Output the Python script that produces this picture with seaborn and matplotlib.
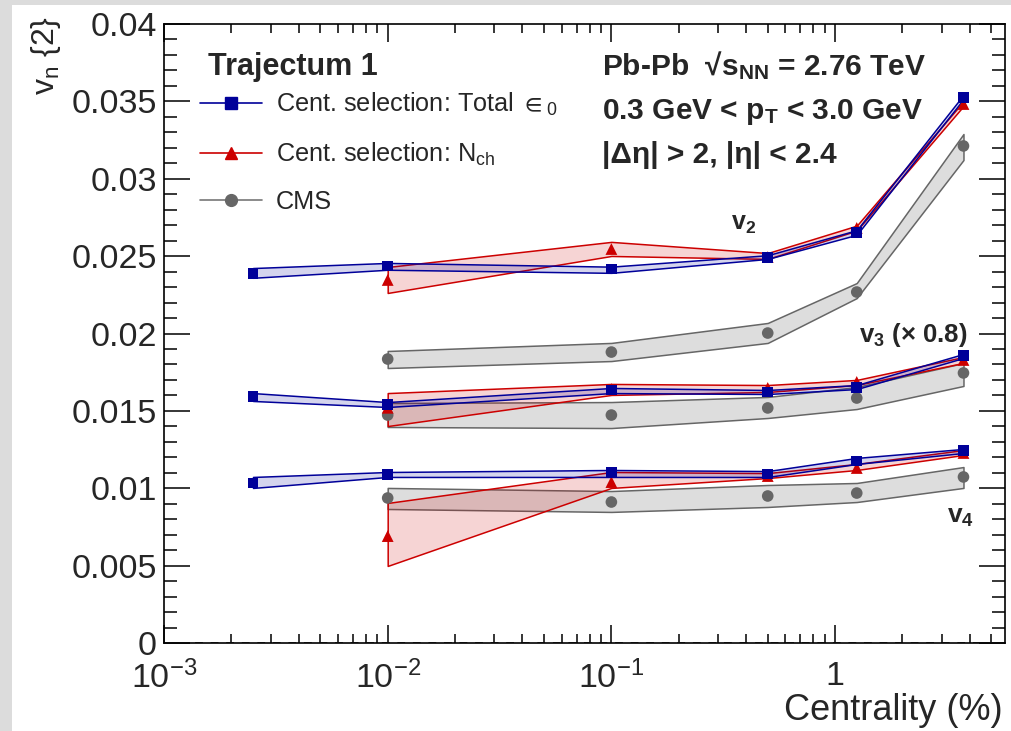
import numpy as np
import pandas as pd
import matplotlib
matplotlib.use("Agg")
import matplotlib.pyplot as plt
import seaborn as sns
from matplotlib.lines import Line2D
from matplotlib.patches import Rectangle
from matplotlib.colors import to_rgba
from matplotlib.ticker import FixedLocator, FixedFormatter, NullFormatter, MultipleLocator

# ---------------- data ----------------
cent_traj = [0.0025, 0.01, 0.1, 0.5, 1.25, 3.75]   # Total eps0 selection
cent_other = [0.01, 0.1, 0.5, 1.25, 3.75]          # Nch selection and CMS

# v2
v2_tot    = [0.02390, 0.02436, 0.02417, 0.02494, 0.02652, 0.03528]
v2_tot_lo = [0.02360, 0.02412, 0.02392, 0.02482, 0.02638, 0.03515]
v2_tot_hi = [0.02423, 0.02456, 0.02432, 0.02506, 0.02668, 0.03542]
v2_nch    = [0.02346, 0.02546, 0.02494, 0.02682, 0.03483]
v2_nch_lo = [0.02262, 0.02501, 0.02482, 0.02665, 0.03470]
v2_nch_hi = [0.02430, 0.02592, 0.02520, 0.02697, 0.03500]
v2_cms    = [0.01835, 0.01880, 0.02003, 0.02268, 0.03212]
v2_cms_lo = [0.01777, 0.01822, 0.01939, 0.02229, 0.03121]
v2_cms_hi = [0.01887, 0.01939, 0.02068, 0.02326, 0.03289]

# v3 (x 0.8, as drawn)
v3_tot    = [0.01590, 0.01544, 0.01635, 0.01622, 0.01654, 0.01855]
v3_tot_lo = [0.01564, 0.01525, 0.01615, 0.01609, 0.01641, 0.01842]
v3_tot_hi = [0.01615, 0.01557, 0.01648, 0.01635, 0.01667, 0.01868]
v3_nch    = [0.01520, 0.01641, 0.01648, 0.01687, 0.01829]
v3_nch_lo = [0.01402, 0.01603, 0.01622, 0.01667, 0.01810]
v3_nch_hi = [0.01615, 0.01674, 0.01667, 0.01700, 0.01848]
v3_cms    = [0.01473, 0.01473, 0.01519, 0.01583, 0.01745]
v3_cms_lo = [0.01396, 0.01389, 0.01454, 0.01512, 0.01661]
v3_cms_hi = [0.01551, 0.01557, 0.01590, 0.01654, 0.01809]

# v4
v4_tot    = [0.01034, 0.01086, 0.01099, 0.01092, 0.01176, 0.01241]
v4_tot_lo = [0.01002, 0.01073, 0.01073, 0.01073, 0.01157, 0.01228]
v4_tot_hi = [0.01073, 0.01105, 0.01118, 0.01111, 0.01196, 0.01254]
v4_nch    = [0.00691, 0.01040, 0.01079, 0.01131, 0.01228]
v4_nch_lo = [0.00498, 0.01002, 0.01066, 0.01118, 0.01215]
v4_nch_hi = [0.00905, 0.01105, 0.01098, 0.01157, 0.01247]
v4_cms    = [0.00937, 0.00911, 0.00950, 0.00969, 0.01073]
v4_cms_lo = [0.00866, 0.00847, 0.00879, 0.00911, 0.01002]
v4_cms_hi = [0.01002, 0.00982, 0.01021, 0.01034, 0.01137]

legend_labels = [r"Cent. selection: Total ${\in}_{0}$",
                 r"Cent. selection: N$_{\rm ch}$",
                 "CMS"]
xtick_vals = [1e-3, 1e-2, 1e-1, 1]
xtick_labels = [r"$10^{-3}$", r"$10^{-2}$", r"$10^{-1}$", "1"]
ytick_vals = [0, 0.005, 0.01, 0.015, 0.02, 0.025, 0.03, 0.035, 0.04]
ytick_labels = ["0", "0.005", "0.01", "0.015", "0.02", "0.025", "0.03", "0.035", "0.04"]

# ---------------- style ----------------
sns.set_theme(style="ticks")
plt.rcParams["font.family"] = ["Liberation Sans", "DejaVu Sans"]
plt.rcParams["mathtext.fontset"] = "custom"
plt.rcParams["mathtext.rm"] = "Liberation Sans"
plt.rcParams["mathtext.it"] = "Liberation Sans:italic"
plt.rcParams["mathtext.bf"] = "Liberation Sans:bold"
plt.rcParams["mathtext.fallback"] = "stixsans"

W, H = 1011, 731
fig = plt.figure(figsize=(W / 100, H / 100), dpi=100, facecolor="white")

def fx(x):
    return x / W

def fy(y):
    return 1 - y / H

# grey screenshot border (left and top)
fig.patches.append(Rectangle((0, 0), fx(12), 1, transform=fig.transFigure,
                             facecolor="#dcdcdc", edgecolor="none", zorder=0))
fig.patches.append(Rectangle((0, fy(5)), 1, 1 - fy(5), transform=fig.transFigure,
                             facecolor="#dcdcdc", edgecolor="none", zorder=0))

ax = fig.add_axes([fx(164), fy(643), fx(1005) - fx(164), fy(24) - fy(643)])
ax.set_facecolor("white")

BLUE = "#000099"
RED = "#cc0000"
GREY = "#666666"

series = [
    # (x, center, lo, hi, colour, fill alpha, marker, size)
    (cent_other, v2_cms, v2_cms_lo, v2_cms_hi, GREY, 0.22, "o", 70),
    (cent_other, v3_cms, v3_cms_lo, v3_cms_hi, GREY, 0.22, "o", 70),
    (cent_other, v4_cms, v4_cms_lo, v4_cms_hi, GREY, 0.22, "o", 70),
    (cent_other, v2_nch, v2_nch_lo, v2_nch_hi, RED, 0.17, "^", 72),
    (cent_other, v3_nch, v3_nch_lo, v3_nch_hi, RED, 0.17, "^", 72),
    (cent_other, v4_nch, v4_nch_lo, v4_nch_hi, RED, 0.17, "^", 72),
    (cent_traj, v2_tot, v2_tot_lo, v2_tot_hi, BLUE, 0.17, "s", 62),
    (cent_traj, v3_tot, v3_tot_lo, v3_tot_hi, BLUE, 0.17, "s", 62),
    (cent_traj, v4_tot, v4_tot_lo, v4_tot_hi, BLUE, 0.17, "s", 62),
]

z = 2
for x, c, lo, hi, col, a, m, s in series:
    ax.fill_between(x, lo, hi, facecolor=to_rgba(col, a), edgecolor=col,
                    linewidth=1.1, zorder=z)
    z += 1
for x, c, lo, hi, col, a, m, s in series:
    df = pd.DataFrame({"cent": x, "v": c})
    sns.scatterplot(data=df, x="cent", y="v", marker=m, s=s, color=col,
                    edgecolor="none", linewidth=0, ax=ax, zorder=z, legend=False)
    z += 1

ax.axhline(0, color="#444444", lw=1.4, ls=(0, (4, 4)), zorder=1)

ax.set_xscale("log")
ax.set_xlim(1e-3, 5.75)
ax.set_ylim(0, 0.04)
ax.set_xlabel("")
ax.set_ylabel("")

ax.xaxis.set_major_locator(FixedLocator(xtick_vals))
ax.xaxis.set_major_formatter(FixedFormatter(xtick_labels))
minor_x = [m * 10.0 ** e for e in range(-3, 1) for m in range(2, 10) if m * 10.0 ** e < 5.75]
ax.xaxis.set_minor_locator(FixedLocator(minor_x))
ax.xaxis.set_minor_formatter(NullFormatter())
ax.yaxis.set_major_locator(FixedLocator(ytick_vals))
ax.yaxis.set_major_formatter(FixedFormatter(ytick_labels))
ax.yaxis.set_minor_locator(MultipleLocator(0.001))

for sp in ax.spines.values():
    sp.set_linewidth(1.2)
    sp.set_color("black")
    sp.set_visible(True)

ax.tick_params(axis="both", which="both", direction="in", top=True, right=True,
               color="black", width=1.1)
ax.tick_params(axis="y", which="major", length=19, labelsize=24.5, pad=5)
ax.tick_params(axis="y", which="minor", length=9.5)
ax.tick_params(axis="x", which="major", length=13, labelsize=24.5, pad=13)
ax.tick_params(axis="x", which="minor", length=6.5)

# legend
handles = [
    Line2D([], [], color=BLUE, marker="s", markersize=8, lw=1.2),
    Line2D([], [], color=RED, marker="^", markersize=8.5, lw=1.2),
    Line2D([], [], color="#777777", marker="o", markerfacecolor=GREY,
           markeredgecolor=GREY, markersize=8.5, lw=1.2),
]
ax.legend(handles, legend_labels, loc="upper left", frameon=False,
          bbox_to_anchor=(fx(200), fy(91)), bbox_transform=fig.transFigure,
          fontsize=18.2, handlelength=2.45, handletextpad=0.55,
          labelspacing=0.88, borderpad=0, borderaxespad=0)

# texts
fig.text(fx(208), fy(75), "Trajectum 1", fontsize=22, fontweight="bold",
         ha="left", va="baseline")
fig.text(fx(602), fy(75), r"Pb-Pb  √$\mathbf{s}_{\mathbf{NN}}$ = 2.76 TeV",
         fontsize=21.5, fontweight="bold", ha="left", va="baseline")
fig.text(fx(602), fy(119), r"0.3 GeV < $\mathbf{p}_{\mathbf{T}}$ < 3.0 GeV",
         fontsize=21.5, fontweight="bold", ha="left", va="baseline")
fig.text(fx(602), fy(163), "|Δη| > 2, |η| < 2.4",
         fontsize=21.5, fontweight="bold", ha="left", va="baseline")
fig.text(fx(731), fy(230), r"$\mathbf{v}_{\mathbf{2}}$", fontsize=18,
         fontweight="bold", ha="left", va="baseline")
fig.text(fx(859), fy(342), r"$\mathbf{v}_{\mathbf{3}}$ (× 0.8)", fontsize=18.5,
         fontweight="bold", ha="left", va="baseline")
fig.text(fx(947), fy(523), r"$\mathbf{v}_{\mathbf{4}}$", fontsize=19,
         fontweight="bold", ha="left", va="baseline")

fig.text(fx(1003), fy(720), "Centrality (%)", fontsize=26, ha="right", va="baseline")
fig.text(fx(46), fy(16), r"$\mathrm{v}_{\mathrm{n}}\ \{2\}$", fontsize=23,
         rotation=90, ha="center", va="top")

fig.savefig("out.png", dpi=100, facecolor="white")
